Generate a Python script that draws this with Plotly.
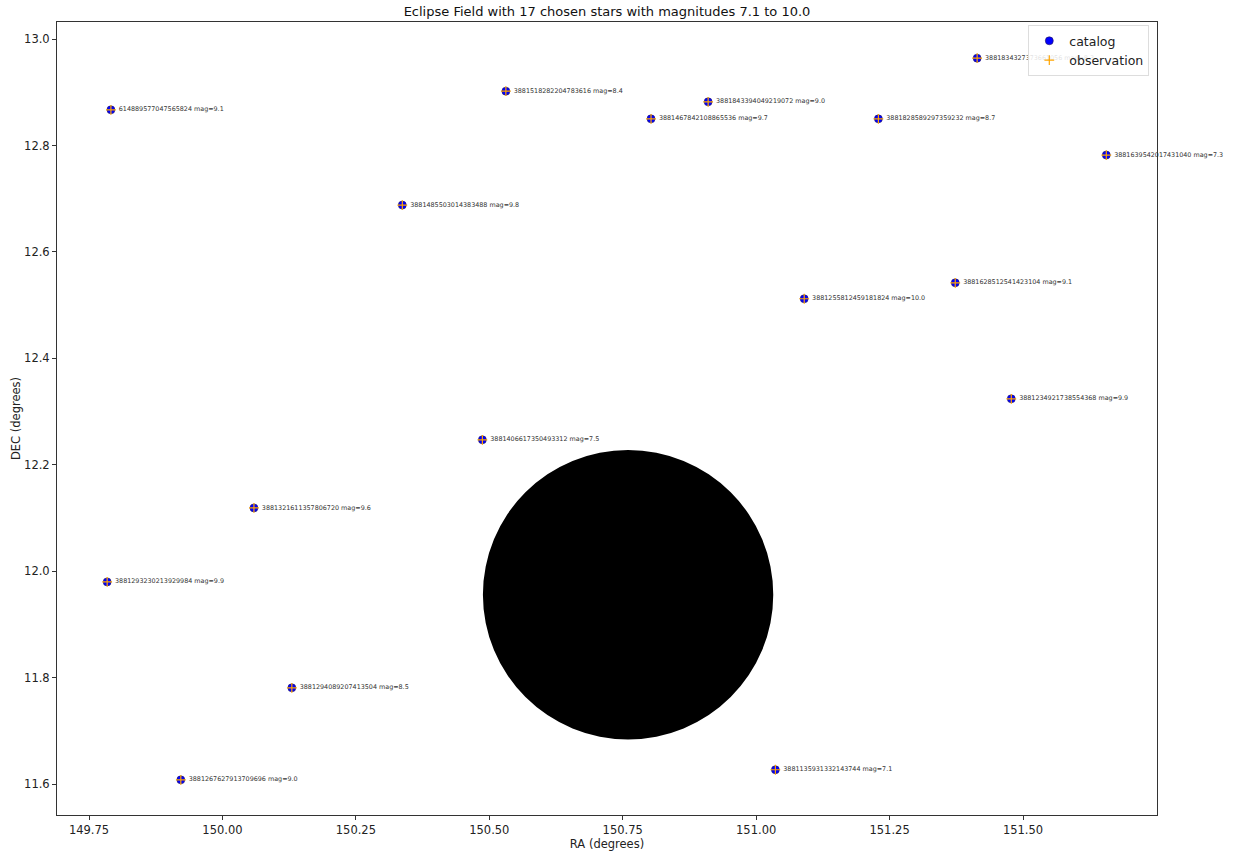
import plotly.graph_objects as go

# Star catalogue for the eclipse field
star_ids = [
    "614889577047565824", "3881518282204783616", "3881843394049219072",
    "3881467842108865536", "3881828589297359232", "3881834327373661056",
    "3881639542017431040", "3881485503014383488", "3881628512541423104",
    "3881255812459181824", "3881234921738554368", "3881406617350493312",
    "3881321611357806720", "3881293230213929984", "3881294089207413504",
    "3881267627913709696", "3881135931332143744",
]
ra = [149.791, 150.531, 150.910, 150.803, 151.229, 151.414, 151.656, 150.337,
      151.373, 151.090, 151.478, 150.487, 150.059, 149.784, 150.130, 149.922,
      151.036]
dec = [12.867, 12.902, 12.882, 12.850, 12.850, 12.964, 12.782, 12.688, 12.542,
       12.512, 12.324, 12.247, 12.119, 11.980, 11.781, 11.608, 11.627]
mags = [9.1, 8.4, 9.0, 9.7, 8.7, 8.3, 7.3, 9.8, 9.1, 10.0, 9.9, 7.5, 9.6, 9.9,
        8.5, 9.0, 7.1]

# Observed positions of the same stars
obs_ra = list(ra)
obs_dec = list(dec)

# Eclipsed disc (centre and radius in degrees)
disc_ra, disc_dec, disc_r = 150.760, 11.956, 0.272

x_ticks = [149.75, 150.00, 150.25, 150.50, 150.75, 151.00, 151.25, 151.50]
y_ticks = [11.6, 11.8, 12.0, 12.2, 12.4, 12.6, 12.8, 13.0]

FONT = "DejaVu Sans"
labels = [f"{sid} mag={m:.1f}" for sid, m in zip(star_ids, mags)]

fig = go.Figure()
fig.add_trace(go.Scatter(
    x=ra, y=dec, mode="markers", name="catalog",
    marker=dict(symbol="circle", size=8, color="blue",
                line=dict(color="#2a1a5a", width=0.6)),
))
fig.add_trace(go.Scatter(
    x=obs_ra, y=obs_dec, mode="markers", name="observation",
    marker=dict(symbol="cross-thin", size=7, color="orange",
                line=dict(color="orange", width=1.2)),
))
# Star labels, drawn in the plot layer so the legend sits above them
fig.add_trace(go.Scatter(
    x=ra, y=dec, mode="markers+text", text=labels,
    textposition="middle right", showlegend=False, hoverinfo="skip",
    cliponaxis=False,
    marker=dict(size=11, opacity=0),
    textfont=dict(family=FONT, size=6.4, color="#333"),
))

fig.add_shape(type="circle", xref="x", yref="y",
              x0=disc_ra - disc_r, x1=disc_ra + disc_r,
              y0=disc_dec - disc_r, y1=disc_dec + disc_r,
              fillcolor="black", line=dict(color="black", width=0),
              layer="below")

axis_common = dict(
    showgrid=False, zeroline=False, showline=True, linecolor="#333",
    linewidth=1, mirror=True, ticks="outside", ticklen=4, tickcolor="#333",
    tickfont=dict(family=FONT, size=11.5, color="#222"),
)

fig.update_layout(
    width=1233, height=853,
    margin=dict(l=57, r=76, t=22, b=38, autoexpand=False),
    paper_bgcolor="white", plot_bgcolor="white",
    title=dict(text="Eclipse Field with 17 chosen stars with magnitudes 7.1 to 10.0",
               x=0.5, xanchor="center", xref="paper", y=0.986, yanchor="middle",
               font=dict(family=FONT, size=13, color="#111")),
    xaxis=dict(range=[149.69, 151.751], tickvals=x_ticks,
               ticktext=[f"{v:.2f}" for v in x_ticks],
               title=dict(text="RA (degrees)", standoff=4,
                          font=dict(family=FONT, size=11.5, color="#222")),
               automargin=False, **axis_common),
    yaxis=dict(range=[11.542, 13.032], tickvals=y_ticks,
               ticktext=[f"{v:.1f}" for v in y_ticks],
               title=dict(text="DEC (degrees)", standoff=1,
                          font=dict(family=FONT, size=11.5, color="#222")),
               automargin=False, **axis_common),
    legend=dict(x=0.993, y=0.996, xanchor="right", yanchor="top",
                bgcolor="rgba(255,255,255,0.85)", bordercolor="#ddd",
                borderwidth=1, font=dict(family=FONT, size=12.5, color="#222"),
                itemsizing="trace", itemwidth=30, tracegroupgap=0),
    showlegend=True,
)

fig.write_html("out.html")
